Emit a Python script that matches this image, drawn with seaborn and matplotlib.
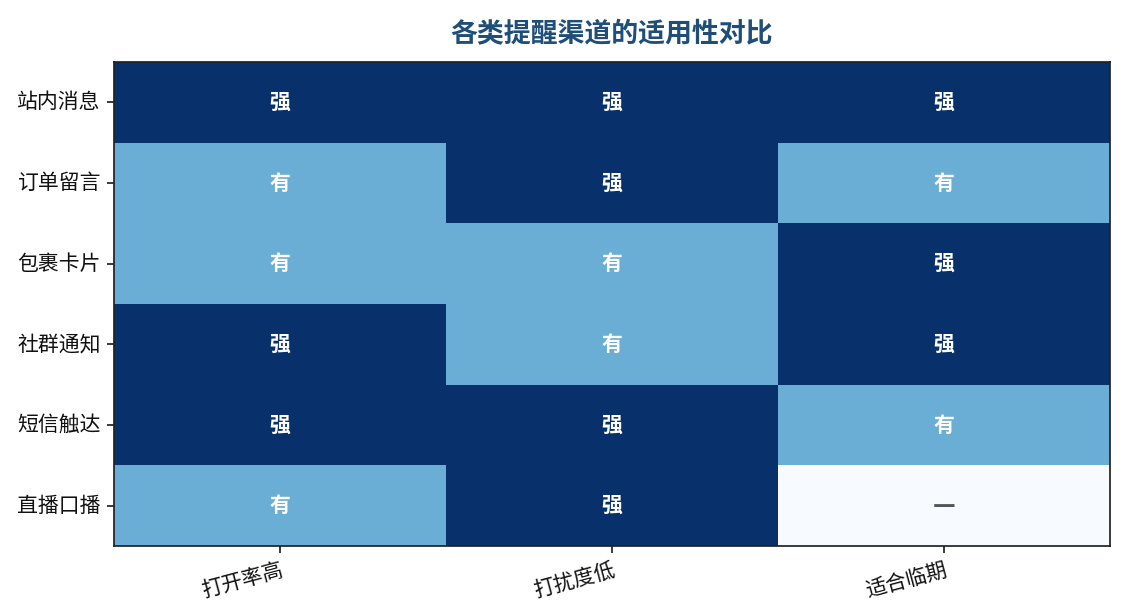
import numpy as np
import pandas as pd
import matplotlib
matplotlib.use('Agg')
import matplotlib.pyplot as plt
import seaborn as sns

# channels (rows) and criteria (columns)
channels = ['站内消息', '订单留言', '包裹卡片', '社群通知', '短信触达', '直播口播']
criteria = ['打开率高', '打扰度低', '适合临期']

# 2 = 强, 1 = 有, 0 = —
open_rate = [2, 1, 1, 2, 2, 1]
low_disturb = [2, 2, 1, 1, 2, 2]
near_expiry = [2, 1, 2, 2, 1, 0]

level_text = {0: '—', 1: '有', 2: '强'}

sns.set_theme(style='white')
plt.rcParams['font.family'] = ['Noto Sans CJK SC', 'DejaVu Sans']
plt.rcParams['axes.unicode_minus'] = False

data = pd.DataFrame({'打开率高': open_rate, '打扰度低': low_disturb, '适合临期': near_expiry},
                    index=channels)[criteria]

fig = plt.figure(figsize=(9, 4.92), dpi=125)
ax = fig.add_axes([0.1013, 0.1122, 0.8854, 0.787])

sns.heatmap(data, cmap='Blues', vmin=0, vmax=2, cbar=False, annot=False, ax=ax)

for i, ch in enumerate(channels):
    for j, cr in enumerate(criteria):
        v = int(data.loc[ch, cr])
        if v == 0:
            ax.text(j + 0.5, i + 0.5, level_text[v], ha='center', va='center',
                    fontsize=13, color='#555555', fontweight='bold',
                    family=['DejaVu Sans'])
        else:
            ax.text(j + 0.5, i + 0.5, level_text[v], ha='center', va='center',
                    fontsize=12, color='white', fontweight='bold')

for s in ax.spines.values():
    s.set_visible(True)
    s.set_color('#222222')
    s.set_linewidth(1.0)

ax.set_xlabel('')
ax.set_ylabel('')
ax.tick_params(axis='both', which='both', length=4, width=1, color='#222222',
               left=True, bottom=True, labelsize=12, labelcolor='#111111')
ax.set_xticklabels(criteria, rotation=15, ha='right', rotation_mode='anchor')
ax.set_yticklabels(channels, rotation=0)
ax.set_title('各类提醒渠道的适用性对比', fontsize=15.5, fontweight='bold',
             color='#1f4e79', pad=12)

fig.savefig('out.png', dpi=125)
